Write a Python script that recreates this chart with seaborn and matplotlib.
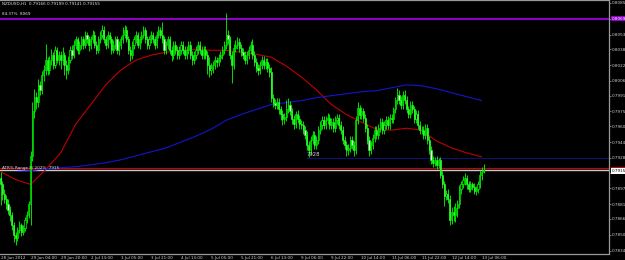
import numpy as np
import pandas as pd
import matplotlib
matplotlib.use("Agg")
import matplotlib.pyplot as plt
import seaborn as sns
from matplotlib.transforms import blended_transform_factory
from matplotlib.patches import Rectangle

# ---------------- data (prices in pips, 1 pip = 0.0001) ----------------
opens = [
 7908,7901,7891,7886,7881,7875,7870,7860,7850,7847,7855,7860,7853,7857,7865,7870,
 7881,7930,7975,7990,7985,8002,7997,8012,8017,8027,8017,8027,8032,8022,8037,8027,
 8032,8027,8032,8022,8017,8027,8037,8032,8042,8048,8037,8042,8048,8042,8053,8048,
 8042,8048,8053,8042,8037,8048,8053,8058,8048,8042,8053,8048,8037,8042,8048,8037,
 8042,8048,8053,8058,8048,8037,8032,8042,8048,8053,8042,8048,8053,8058,8048,8042,
 8048,8053,8048,8042,8053,8058,8053,8048,8037,8042,8048,8037,8032,8042,8037,8032,
 8037,8042,8037,8032,8037,8042,8032,8027,8032,8037,8042,8037,8032,8037,8032,8022,
 8017,8019,8022,8027,8025,8029,8032,8037,8042,8053,8048,8032,8022,8039,8042,8045,
 8039,8035,8032,8027,8032,8037,8042,8032,8025,8019,8017,8022,8027,8022,8025,8019,
 8015,7989,7984,7982,7985,7977,7972,7967,7969,7977,7982,7975,7967,7962,7972,7967,
 7962,7961,7956,7951,7941,7936,7946,7951,7941,7946,7956,7961,7966,7961,7966,7968,
 7961,7964,7958,7966,7968,7961,7956,7946,7941,7936,7938,7946,7941,7936,7966,7979,
 7971,7975,7968,7958,7946,7936,7941,7948,7956,7951,7958,7964,7956,7961,7966,7961,
 7968,7967,7977,7987,7992,7987,7982,7992,7987,7977,7972,7982,7977,7967,7972,7961,
 7956,7956,7951,7958,7946,7936,7926,7923,7926,7921,7926,7911,7901,7889,7891,7886,
 7865,7873,7870,7877,7881,7896,7901,7906,7908,7901,7896,7901,7898,7894,7896,7901,
 7911,7914]
highs = [
 7914,7905,7896,7890,7886,7879,7873,7863,7853,7858,7864,7862,7860,7868,7874,7884,
 7935,7985,7998,7995,8008,8006,8016,8022,8043,8030,8031,8038,8035,8041,8040,8036,
 8036,8040,8035,8027,8031,8041,8042,8047,8052,8050,8046,8052,8051,8057,8056,8051,
 8052,8058,8057,8046,8051,8057,8063,8062,8052,8057,8056,8051,8047,8052,8051,8046,
 8052,8061,8063,8062,8051,8041,8046,8052,8057,8056,8052,8057,8062,8061,8052,8052,
 8057,8056,8052,8057,8062,8061,8066,8051,8046,8052,8051,8041,8046,8046,8041,8041,
 8046,8046,8041,8041,8046,8046,8036,8036,8041,8046,8046,8041,8041,8041,8036,8030,
 8024,8026,8031,8030,8033,8036,8041,8046,8075,8058,8052,8036,8043,8047,8050,8049,
 8043,8039,8036,8036,8041,8046,8048,8036,8029,8023,8026,8031,8031,8029,8029,8023,
 8020,7993,7988,7989,7989,7981,7976,7973,7987,7989,7986,7979,7971,7975,7976,7971,
 7966,7965,7960,7955,7945,7950,7955,7955,7950,7960,7965,7970,7970,7970,7973,7972,
 7968,7968,7970,7972,7972,7965,7960,7950,7945,7942,7950,7950,7945,7970,7985,7982,
 7980,7979,7972,7962,7950,7945,7952,7960,7960,7962,7968,7968,7965,7970,7970,7972,
 7972,7980,7990,7999,7997,7991,7996,7997,7991,7981,7986,7986,7981,7976,7976,7965,
 7960,7960,7962,7962,7950,7940,7930,7929,7930,7928,7929,7915,7905,7895,7896,7890,
 7878,7879,7882,7885,7900,7905,7910,7913,7911,7905,7904,7903,7902,7899,7904,7916,
 7919,7922]
lows = [
 7880,7885,7882,7876,7871,7864,7855,7843,7840,7844,7852,7849,7850,7854,7862,7867,
 7860,7925,7968,7978,7980,7992,7993,8006,8012,8012,8013,8022,8018,8019,8024,8022,
 8018,8022,8012,8008,8013,8024,8028,8029,8038,8033,8033,8038,8038,8039,8044,8036,
 8038,8044,8039,8033,8034,8044,8049,8044,8038,8039,8044,8033,8034,8038,8033,8032,
 8038,8044,8049,8045,8033,8026,8028,8038,8044,8039,8038,8044,8049,8044,8038,8038,
 8044,8044,8038,8039,8049,8049,8044,8033,8033,8038,8033,8026,8028,8033,8028,8028,
 8033,8033,8028,8028,8033,8028,8022,8023,8028,8033,8033,8028,8028,8028,8013,8010,
 8012,8014,8018,8020,8021,8025,8028,8033,8038,8043,8028,8004,8018,8035,8038,8035,
 8031,8028,8023,8023,8028,8033,8028,8021,8015,8012,8013,8018,8018,8018,8015,8010,
 7985,7980,7977,7978,7972,7966,7961,7962,7965,7973,7971,7962,7957,7958,7963,7957,
 7957,7952,7947,7936,7929,7932,7942,7937,7937,7942,7952,7957,7957,7957,7962,7957,
 7957,7954,7954,7962,7957,7952,7942,7937,7930,7931,7934,7937,7930,7932,7962,7967,
 7967,7964,7954,7942,7930,7932,7937,7944,7947,7947,7954,7952,7952,7957,7957,7957,
 7963,7963,7973,7983,7983,7978,7978,7983,7973,7968,7968,7973,7963,7963,7957,7952,
 7952,7947,7947,7942,7932,7922,7919,7920,7917,7918,7908,7897,7879,7885,7882,7860,
 7861,7864,7863,7868,7877,7891,7897,7900,7896,7893,7893,7895,7891,7890,7892,7897,
 7906,7913]
closes = [
 7901,7891,7886,7881,7875,7870,7860,7850,7847,7855,7860,7853,7857,7865,7870,7881,
 7930,7975,7990,7985,8002,7997,8012,8017,8027,8017,8027,8032,8022,8037,8027,8032,
 8027,8032,8022,8017,8027,8037,8032,8042,8048,8037,8042,8048,8042,8053,8048,8042,
 8048,8053,8042,8037,8048,8053,8058,8048,8042,8053,8048,8037,8042,8048,8037,8042,
 8048,8053,8058,8048,8037,8032,8042,8048,8053,8042,8048,8053,8058,8048,8042,8048,
 8053,8048,8042,8053,8058,8053,8048,8037,8042,8048,8037,8032,8042,8037,8032,8037,
 8042,8037,8032,8037,8042,8032,8027,8032,8037,8042,8037,8032,8037,8032,8022,8017,
 8019,8022,8027,8025,8029,8032,8037,8042,8053,8048,8032,8022,8039,8042,8045,8039,
 8035,8032,8027,8032,8037,8042,8032,8025,8019,8017,8022,8027,8022,8025,8019,8015,
 7989,7984,7982,7985,7977,7972,7967,7969,7977,7982,7975,7967,7962,7972,7967,7962,
 7961,7956,7951,7941,7936,7946,7951,7941,7946,7956,7961,7966,7961,7966,7968,7961,
 7964,7958,7966,7968,7961,7956,7946,7941,7936,7938,7946,7941,7936,7966,7979,7971,
 7975,7968,7958,7946,7936,7941,7948,7956,7951,7958,7964,7956,7961,7966,7961,7968,
 7967,7977,7987,7992,7987,7982,7992,7987,7977,7972,7982,7977,7967,7972,7961,7956,
 7956,7951,7958,7946,7936,7926,7923,7926,7921,7926,7911,7901,7889,7891,7886,7865,
 7873,7870,7877,7881,7896,7901,7906,7908,7901,7896,7901,7898,7894,7896,7901,7911,
 7914,7916]

red_ma_bar = list(range(0, 257, 8))
red_ma = [7914,7906,7901,7916,7933,7962,7982,8002,8017,8027,8032,8035,8037,8038,
          8037,8037,8035,8033,8030,8021,8010,7997,7982,7972,7964,7957,7956,7958,
          7956,7945,7938,7933,7929]
blue_ma_bar = list(range(8, 257, 8))
blue_ma = [7914,7915,7917,7918,7919,7921,7923,7926,7930,7934,7938,7944,7950,7957,
           7966,7972,7977,7982,7984,7986,7989,7991,7993,7995,7996,7999,8002,8001,
           7998,7994,7990,7986]

date_labels = ['28 Jun 2012', '29 Jun 04:00', '29 Jun 20:00', '2 Jul 13:00',
               '3 Jul 05:00', '3 Jul 21:00', '4 Jul 13:00', '5 Jul 05:00',
               '5 Jul 21:00', '6 Jul 13:00', '9 Jul 06:00', '9 Jul 22:00',
               '10 Jul 14:00', '11 Jul 06:00', '11 Jul 22:00', '12 Jul 14:00',
               '13 Jul 06:00']
price_ticks = [0.8085, 0.8069, 0.8053, 0.8038, 0.8022, 0.8006, 0.7991, 0.7975,
               0.7960, 0.7944, 0.7928, 0.7913, 0.7897, 0.7881, 0.7866, 0.7850, 0.7834]

level_purple = 0.8069
level_navy = 0.7928
bid_price = 0.79155
ask_price = 0.79175
title_text = "NZDUSD,H1  0.79166 0.79199 0.79141 0.79155"
level_text = "84.37%  8069"
range_text = "ATR% Range 8/ 202%  7915"

# ---------------- figure ----------------
sns.set_style("dark")
plt.rcParams['font.family'] = ['DejaVu Sans']
plt.rcParams['axes.grid'] = False

df = pd.DataFrame({'bar': np.arange(len(closes)),
                   'open': np.array(opens) / 1e4, 'high': np.array(highs) / 1e4,
                   'low': np.array(lows) / 1e4, 'close': np.array(closes) / 1e4})
ma_red_df = pd.DataFrame({'bar': red_ma_bar, 'v': np.array(red_ma) / 1e4})
ma_blue_df = pd.DataFrame({'bar': blue_ma_bar, 'v': np.array(blue_ma) / 1e4})

fig = plt.figure(figsize=(6.25, 2.6), dpi=100, facecolor='black')
ax = fig.add_axes([0, 6.5 / 260, 609 / 625, 253.5 / 260], facecolor='black')

GREEN = '#00ff00'
fs = 3.0

ax.axhline(level_purple, color='#8c00c8', lw=1.5, zorder=1)
ax.hlines(level_navy, 162.3, 330, color='#101070', lw=0.8, zorder=1)
ax.axhline(ask_price, color='#c80000', lw=0.8, zorder=1)
ax.axhline(bid_price, color='#c8c8c8', lw=1.0, zorder=1)

sns.lineplot(data=ma_red_df, x='bar', y='v', color='#c00000', lw=0.8, ax=ax, zorder=2)
sns.lineplot(data=ma_blue_df, x='bar', y='v', color='#1414d2', lw=0.8, ax=ax, zorder=2)

ax.vlines(df['bar'], df['low'], df['high'], colors=GREEN, lw=0.6, zorder=3)
up = df['close'] >= df['open']
dn = ~up
ax.bar(df['bar'][up], (df['close'] - df['open'])[up], bottom=df['open'][up],
       width=0.6, color='black', edgecolor=GREEN, lw=0.5, zorder=4)
ax.bar(df['bar'][dn], (df['open'] - df['close'])[dn], bottom=df['close'][dn],
       width=0.6, color='white', edgecolor=GREEN, lw=0.5, zorder=4)

ax.set_xlim(-0.27, 323.7)
ax.set_ylim(0.78310, 0.80880)
ax.set_xlabel('')
ax.set_ylabel('')

hidden = {0.8069, 0.7913}
ax.yaxis.tick_right()
ax.set_yticks(price_ticks)
ax.set_yticklabels(['' if p in hidden else f'{p:.4f}' for p in price_ticks])
ax.set_xticks(list(range(0, 257, 16)))
ax.set_xticklabels(date_labels, ha='left')
ax.tick_params(axis='both', colors='#a0a0a0', labelcolor='#d0d0d0', labelsize=fs,
               length=1.5, width=0.5, pad=0.6, direction='out')
ax.tick_params(axis='x', pad=0.2)

for s in ['top', 'right', 'bottom']:
    ax.spines[s].set_color('#9a9a9a')
    ax.spines[s].set_linewidth(0.9)
ax.spines['left'].set_visible(False)

tr = blended_transform_factory(ax.transAxes, ax.transData)
ax.text(1.004, level_purple, '0.8069', transform=tr, fontsize=fs, color='white',
        va='center', ha='left', clip_on=False, zorder=10,
        bbox=dict(fc='#8c00c8', ec='none', pad=0.5))
ax.add_patch(Rectangle((1.003, ask_price - 0.00001), 0.024, 0.00016, transform=tr,
                       fc='#d00000', ec='none', clip_on=False, zorder=9))
ax.text(1.004, bid_price - 0.00010, '0.7915', transform=tr, fontsize=fs, color='black',
        va='center', ha='left', clip_on=False, zorder=11,
        bbox=dict(fc='white', ec='none', pad=0.5))

ax.text(162.6, level_navy + 0.00008, '7928', fontsize=fs + 0.8, color='#d8d8d8',
        va='bottom', ha='left', zorder=6)
fig.text(2 / 625, 1 - 4 / 260, title_text, fontsize=fs, color='#e0e0e0', va='center', ha='left')
fig.text(2 / 625, 1 - 14 / 260, level_text, fontsize=fs, color='#e0e0e0', va='center', ha='left')
fig.text(2 / 625, 1 - 167.5 / 260, range_text, fontsize=fs, color='#e0e0e0', va='center', ha='left')

fig.savefig('out.png', dpi=100, facecolor='black')
